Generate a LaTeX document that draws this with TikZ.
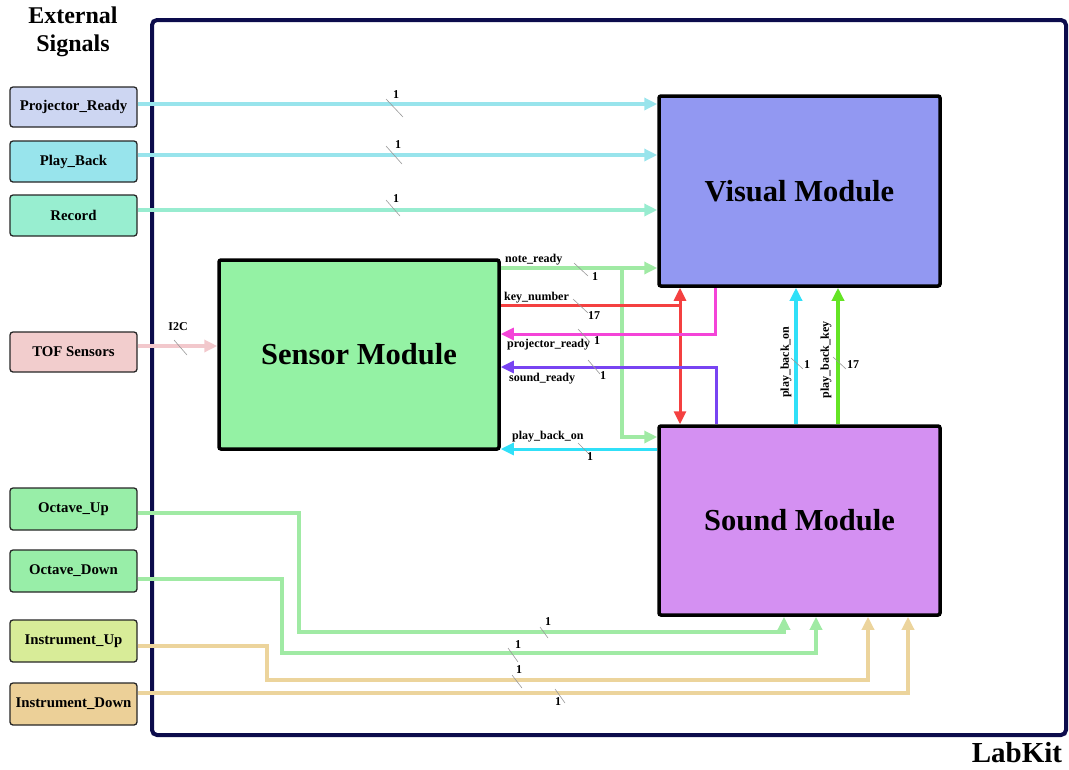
\documentclass[tikz,border=0pt]{standalone}
\usepackage{fontspec}
\setmainfont{Liberation Serif}
\usetikzlibrary{arrows.meta}
\definecolor{frame}{HTML}{0C0C4C}
\definecolor{fpr}{HTML}{CDD6F2}
\definecolor{fpb}{HTML}{98E4EC}
\definecolor{frec}{HTML}{98EED0}
\definecolor{ftof}{HTML}{F2CDCD}
\definecolor{foct}{HTML}{98EEA8}
\definecolor{fiup}{HTML}{D8EC98}
\definecolor{fidn}{HTML}{ECD098}
\definecolor{fvis}{HTML}{9298F2}
\definecolor{fsnd}{HTML}{D490F2}
\definecolor{fsen}{HTML}{94F2A4}
\definecolor{wcyanl}{HTML}{98E4EC}
\definecolor{wmint}{HTML}{98ECD0}
\definecolor{wpink}{HTML}{F2C8CC}
\definecolor{wgreen}{HTML}{A0EAA4}
\definecolor{wtan}{HTML}{ECD49C}
\definecolor{wred}{HTML}{F44040}
\definecolor{wmag}{HTML}{F444D8}
\definecolor{wpur}{HTML}{7844F2}
\definecolor{wcyan}{HTML}{30E0F8}
\definecolor{wlime}{HTML}{64E424}
\tikzset{
  sig/.style={draw=black!85, line width=1.3pt, rounded corners=3pt, minimum width=127pt, minimum height=41pt, inner sep=0pt, font=\bfseries\fontsize{14.8}{17}\selectfont},
  module/.style={draw=black, line width=3.5pt, rounded corners=2pt, inner sep=0pt, font=\bfseries\fontsize{30.5}{34}\selectfont},
  wire/.style={line width=3.5pt},
  thinwire/.style={line width=3pt},
  arr/.style={-{Triangle[length=13pt,width=12pt]}},
  darr/.style={{Triangle[length=13pt,width=12pt]}-{Triangle[length=13pt,width=12pt]}},
  busmark/.style={draw=gray!80, line width=0.6pt},
  lab/.style={font=\bfseries\fontsize{12}{14}\selectfont, inner sep=0pt},
}
\begin{document}
\begin{tikzpicture}[x=1pt,y=-1pt]
\useasboundingbox (0,0) rectangle (1069,769);
% outer frame
\draw[frame, line width=4pt, rounded corners=5pt] (152,20) rectangle (1066,735);
\node[font=\bfseries\fontsize{24}{28}\selectfont, align=center, inner sep=0pt] (ext) at (73,32) {External\\Signals};
\node[font=\bfseries\fontsize{29}{32}\selectfont, inner sep=0pt, anchor=base] (lk) at (1017,762) {LabKit};

% signal boxes
\node[sig, fill=fpr, minimum height=40pt] (pr) at (73.5,107) {Projector\_Ready};
\node[sig, fill=fpb] (pb) at (73.5,161.5) {Play\_Back};
\node[sig, fill=frec] (rec) at (73.5,215.5) {Record};
\node[sig, fill=ftof, minimum height=40pt] (tof) at (73.5,352) {TOF Sensors};
\node[sig, fill=foct, minimum height=42pt] (oup) at (73.5,509) {Octave\_Up};
\node[sig, fill=foct, minimum height=42pt] (odn) at (73.5,571) {Octave\_Down};
\node[sig, fill=fiup, minimum height=42pt] (iup) at (73.5,641) {Instrument\_Up};
\node[sig, fill=fidn, minimum height=42pt] (idn) at (73.5,704) {Instrument\_Down};

% modules
\node[module, fill=fvis, minimum width=281pt, minimum height=190pt] (vis) at (799.5,191) {Visual Module};
\node[module, fill=fsnd, minimum width=281pt, minimum height=189pt] (snd) at (799.5,520.5) {Sound Module};
\node[module, fill=fsen, minimum width=280pt, minimum height=189pt] (sen) at (359,354.5) {Sensor Module};

% top inputs
\draw[wire, arr, wcyanl] ([yshift=3pt]pr.east) coordinate (a1) -- (a1 -| vis.west);
\draw[wire, arr, wcyanl] ([yshift=6.5pt]pb.east) coordinate (a2) -- (a2 -| vis.west);
\draw[wire, arr, wmint] ([yshift=5.5pt]rec.east) coordinate (a3) -- (a3 -| vis.west);
\draw[busmark] (386,99) -- (403,117);
\draw[busmark] (386,146) -- (402,164);
\draw[busmark] (386,200) -- (400,216);
\node[lab] (l1) at (396,95) {1};
\node[lab] (l2) at (398,145) {1};
\node[lab] (l3) at (396,199) {1};

% TOF
\draw[wire, arr, wpink] ([yshift=6pt]tof.east) coordinate (a4) -- (a4 -| sen.west);
\draw[busmark] (174,340) -- (187,355);
\node[lab] (li2c) at (178,327) {I2C};

% sensor <-> modules
\draw[wire, arr, wgreen] ([yshift=86.5pt]sen.east) coordinate (n1) -- (n1 -| vis.west);
\draw[wire, arr, wgreen] (622,268) -- (622,437) -- (snd.west |- 0,437);
\draw[thinwire, wred] ([yshift=49.5pt]sen.east) coordinate (k1) -- (680,305);
\draw[thinwire, darr, wred] (vis.south -| 680,0) -- (snd.north -| 680,0);
\draw[thinwire, arr, wmag] (vis.south -| 715,0) -- (715,334) -- (sen.east |- 0,334);
\draw[thinwire, arr, wpur] (snd.north -| 716,0) -- (716,367) -- (sen.east |- 0,367);
\draw[thinwire, arr, wcyan] (snd.west |- 0,449) -- (sen.east |- 0,449);
\draw[wire, arr, wcyan] (snd.north -| 796,0) -- (vis.south -| 796,0);
\draw[wire, arr, wlime] (snd.north -| 838,0) -- (vis.south -| 838,0);

\node[lab, anchor=west] (lnr) at (505,260) {note\_ready};
\node[lab, anchor=west] (lkn) at (504,298) {key\_number};
\node[lab, anchor=west] (lpr) at (507,345) {projector\_ready};
\node[lab, anchor=west] (lsr) at (509,379) {sound\_ready};
\node[lab, anchor=west] (lpb) at (512,437) {play\_back\_on};
\node[lab, rotate=90] (lpbv) at (786,362) {play\_back\_on};
\node[lab, rotate=90] (lpk) at (826,360) {play\_back\_key};
\draw[busmark] (574,263) -- (588,276);
\draw[busmark] (573,299) -- (588,313);
\draw[busmark] (578,329) -- (590,342);
\draw[busmark] (588,360) -- (600,374);
\draw[busmark] (578,443) -- (590,455);
\draw[busmark] (791,358) -- (803,369);
\draw[busmark] (833,357) -- (846,369);
\node[lab] (n1l) at (595,277) {1};
\node[lab] (n2l) at (594,316) {17};
\node[lab] (n3l) at (597,341) {1};
\node[lab] (n4l) at (603,376) {1};
\node[lab] (n5l) at (590,457) {1};
\node[lab] (n6l) at (807,365) {1};
\node[lab] (n7l) at (853,365) {17};

% bottom inputs
\draw[wire, arr, wgreen] ([yshift=-4pt]oup.east) -| (299,632) -| ([xshift=-15.5pt]snd.south);
\draw[wire, arr, wgreen] ([yshift=-8pt]odn.east) -| (282,653) -| ([xshift=16.5pt]snd.south);
\draw[wire, arr, wtan] ([yshift=-5pt]iup.east) -| (267,680) -| ([xshift=68.5pt]snd.south);
\draw[wire, arr, wtan] ([yshift=11pt]idn.east) -| ([xshift=108.5pt]snd.south);
\draw[busmark] (540,627) -- (548,638);
\draw[busmark] (508,648) -- (518,662);
\draw[busmark] (512,675) -- (522,688);
\draw[busmark] (555,689) -- (565,703);
\node[lab] (b1) at (548,622) {1};
\node[lab] (b2) at (518,645) {1};
\node[lab] (b3) at (519,670) {1};
\node[lab] (b4) at (558,702) {1};
\end{tikzpicture}
\end{document}
